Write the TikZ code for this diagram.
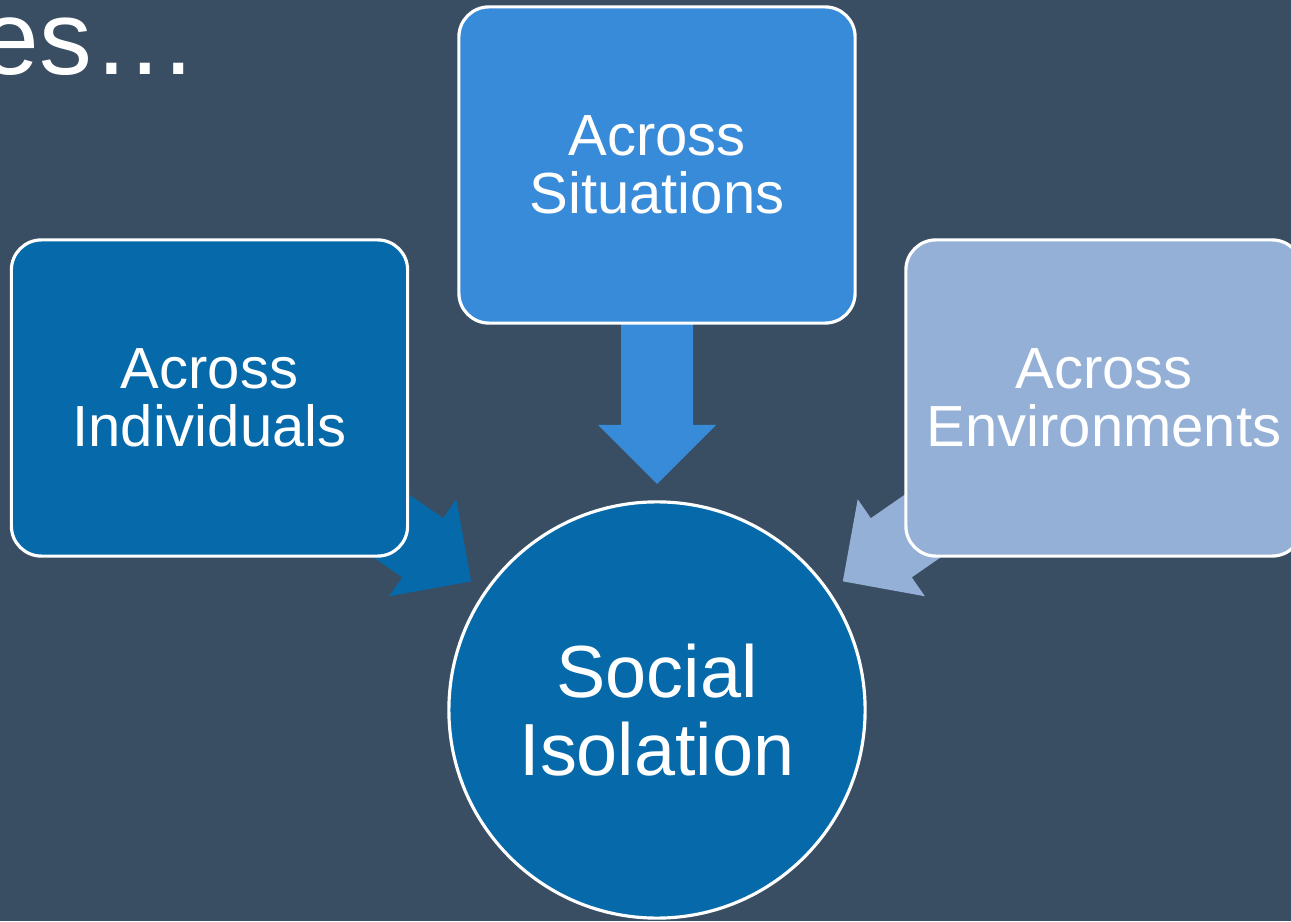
\documentclass[tikz,border=0pt]{standalone}
\usepackage{fontspec}
\setmainfont{Liberation Sans}
\usetikzlibrary{calc}

\definecolor{slate}{RGB}{57,78,98}
\definecolor{deepblue}{RGB}{5,105,170}
\definecolor{midblue}{RGB}{56,139,216}
\definecolor{paleblue}{RGB}{149,176,214}

\tikzset{
  box/.style={draw=white,line width=0.9pt,rounded corners=0.3cm,minimum width=3.96cm,minimum height=3.16cm,
    align=center,text=white,font=\fontsize{16.5}{16.5}\selectfont},
  pics/blockarrow/.style={code={
    \fill[#1] (0,0)--(-59,59)--(-59,36)--(-200,36)--(-200,-36)--(-59,-36)--(-59,-59)--cycle;}}
}

\begin{document}
\begin{tikzpicture}[x=0.01cm,y=0.01cm]
	\useasboundingbox (0,0) rectangle (1291,921);
	\clip (0,0) rectangle (1291,921);
	\fill[slate] (0,0) rectangle (1291,921);
	\node[anchor=base west,inner sep=0,text=white,font=\fontsize{30}{30}\selectfont] (title) at (-20,846) {es…};
	\node[circle,draw=white,line width=0.9pt,fill=deepblue,minimum size=4.16cm,inner sep=0,align=center,
		text=white,font=\fontsize{21}{22}\selectfont] (iso) at (657,211) {Social\\Isolation};
	\pic[rotate=-90] at ($(iso.center)+(90:226)$) {blockarrow=midblue};
	\pic[rotate=-34.7] at ($(iso.center)+(145.3:226)$) {blockarrow=deepblue};
	\pic[rotate=-145.3] at ($(iso.center)+(34.7:226)$) {blockarrow=paleblue};
	\node[box,fill=midblue] (sit) at (657,756) {Across\\Situations};
	\node[box,fill=deepblue] (ind) at (209.5,523) {Across\\Individuals};
	\node[box,fill=paleblue] (env) at (1104,523) {Across\\Environments};
\end{tikzpicture}
\end{document}
